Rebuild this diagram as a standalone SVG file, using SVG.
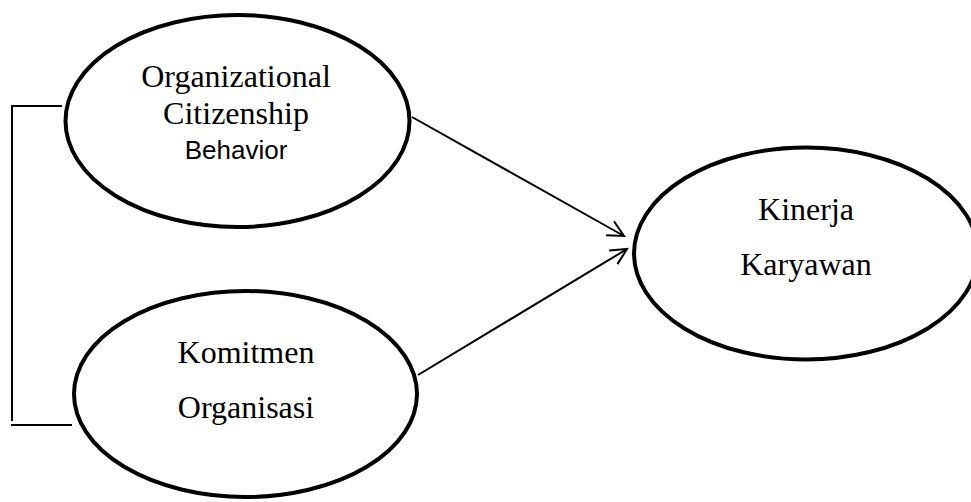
<svg xmlns="http://www.w3.org/2000/svg" width="971" height="502" viewBox="0 0 971 502">
  <style>
    .node ellipse { fill: #ffffff; stroke: #000000; stroke-width: 4; }
    .serif { font-family: "Liberation Serif", "Times New Roman", serif; font-size: 32px; fill: #000; text-anchor: middle; }
    .sans { font-family: "Liberation Sans", Arial, sans-serif; font-size: 26px; fill: #000; text-anchor: middle; }
    .conn { stroke: #000; stroke-width: 2; fill: none; }
  </style>
  <defs>
    <marker id="arrow" markerUnits="userSpaceOnUse" markerWidth="24" markerHeight="24" viewBox="-20 -12 24 24" refX="0" refY="0" orient="auto">
      <path d="M -16 -8 L 0 0 L -16 8" fill="none" stroke="#000" stroke-width="2"/>
    </marker>
  </defs>
  <rect width="971" height="502" fill="#ffffff"/>
  <g id="connectors">
    <line class="conn" x1="62" y1="106" x2="11" y2="106"/>
    <line class="conn" x1="12" y1="105" x2="12" y2="421"/>
    <line class="conn" x1="11" y1="425" x2="72" y2="425"/>
    <line class="conn" x1="412" y1="117" x2="624" y2="236" marker-end="url(#arrow)"/>
    <line class="conn" x1="418" y1="375" x2="627" y2="249" marker-end="url(#arrow)"/>
  </g>
  <g id="ocb" class="node">
    <ellipse cx="237.5" cy="121" rx="172" ry="106"/>
    <text class="serif" x="236" y="87">Organizational</text>
    <text class="serif" x="236" y="124">Citizenship</text>
    <text class="sans" x="236" y="159">Behavior</text>
  </g>
  <g id="komitmen" class="node">
    <ellipse cx="245.5" cy="394" rx="171.5" ry="103"/>
    <text class="serif" x="246" y="363">Komitmen</text>
    <text class="serif" x="246" y="418">Organisasi</text>
  </g>
  <g id="kinerja" class="node">
    <ellipse cx="806" cy="253.5" rx="172" ry="106"/>
    <text class="serif" x="806" y="220">Kinerja</text>
    <text class="serif" x="806" y="275">Karyawan</text>
  </g>
</svg>
